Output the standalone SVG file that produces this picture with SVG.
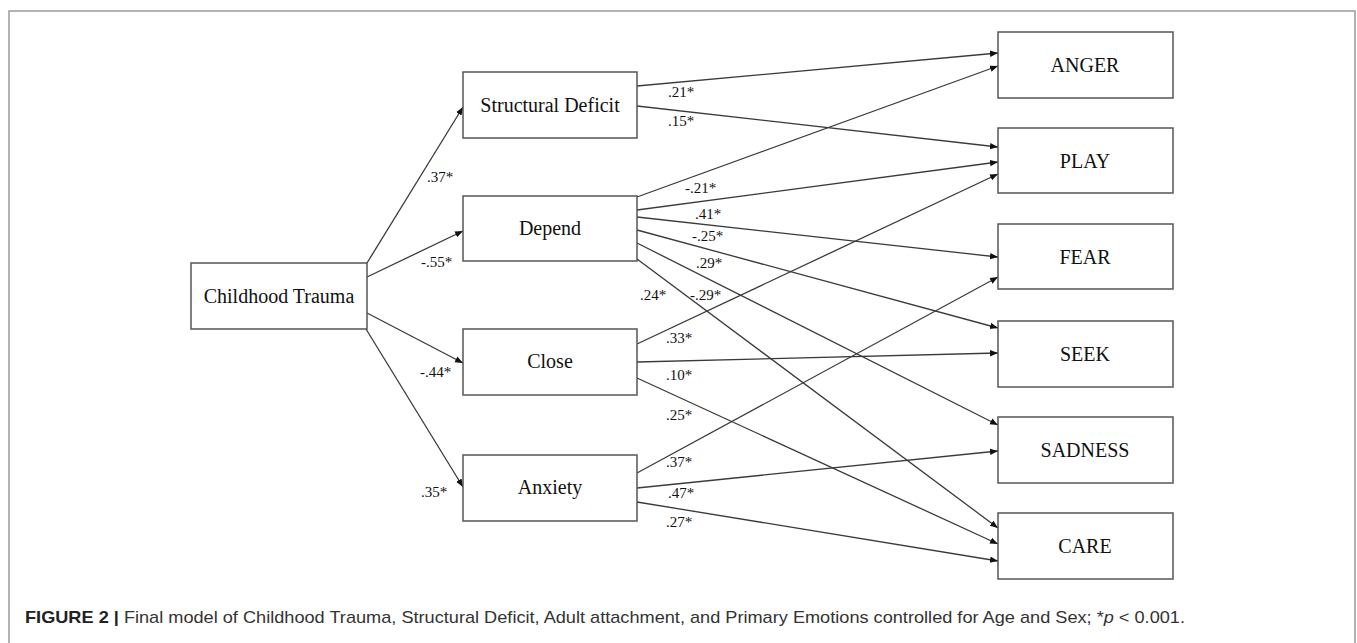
<svg xmlns="http://www.w3.org/2000/svg" width="1357" height="643" viewBox="0 0 1357 643">
<style>
.frame{fill:none;stroke:#9a9a9a;stroke-width:1.5}
.box{fill:#fff;stroke:#555;stroke-width:1.5}
.lbl{font-family:"Liberation Serif","Times New Roman",serif;font-size:20px;fill:#111;text-anchor:middle}
.coef{font-family:"Liberation Serif","Times New Roman",serif;font-size:15px;fill:#111}
.edge{stroke:#3a3a3a;stroke-width:1.3;fill:none;marker-end:url(#arr)}
.cap{font-family:"Liberation Sans",Arial,sans-serif;font-size:17px;fill:#333}
</style>
<defs>
<marker id="arr" viewBox="0 0 10 10" refX="10" refY="5" markerWidth="8" markerHeight="8" markerUnits="userSpaceOnUse" orient="auto">
<path d="M0,1 L10,5 L0,9 z" fill="#111"/>
</marker>
</defs>
<rect width="1357" height="643" fill="#fff"/>
<path class="frame" d="M9,643 V11 H1355 V643"/>

<g id="connectors">
<line class="edge" x1="367" y1="263" x2="463" y2="107"/>
<line class="edge" x1="367" y1="277" x2="463" y2="231"/>
<line class="edge" x1="367" y1="313" x2="463" y2="363"/>
<line class="edge" x1="366" y1="329" x2="463" y2="487"/>

<line class="edge" x1="637" y1="86" x2="998" y2="53"/>
<line class="edge" x1="637" y1="106" x2="998" y2="147"/>

<line class="edge" x1="637" y1="197" x2="998" y2="66"/>
<line class="edge" x1="637" y1="210" x2="998" y2="162"/>
<line class="edge" x1="637" y1="217" x2="998" y2="257"/>
<line class="edge" x1="637" y1="230" x2="998" y2="328"/>
<line class="edge" x1="637" y1="243" x2="998" y2="425"/>
<line class="edge" x1="637" y1="259" x2="998" y2="528"/>

<line class="edge" x1="637" y1="344" x2="998" y2="174"/>
<line class="edge" x1="637" y1="362" x2="998" y2="353"/>
<line class="edge" x1="637" y1="378" x2="998" y2="544"/>

<line class="edge" x1="637" y1="473" x2="998" y2="277"/>
<line class="edge" x1="637" y1="488" x2="998" y2="451"/>
<line class="edge" x1="637" y1="502" x2="998" y2="561"/>

<text class="coef" x="427" y="182">.37*</text>
<text class="coef" x="421" y="267">-.55*</text>
<text class="coef" x="420" y="377">-.44*</text>
<text class="coef" x="421" y="497">.35*</text>
<text class="coef" x="668" y="97">.21*</text>
<text class="coef" x="668" y="126">.15*</text>
<text class="coef" x="685" y="193">-.21*</text>
<text class="coef" x="695" y="219">.41*</text>
<text class="coef" x="692" y="241">-.25*</text>
<text class="coef" x="696" y="268">.29*</text>
<text class="coef" x="640" y="300">.24*</text>
<text class="coef" x="690" y="300">-.29*</text>
<text class="coef" x="666" y="343">.33*</text>
<text class="coef" x="666" y="380">.10*</text>
<text class="coef" x="666" y="420">.25*</text>
<text class="coef" x="666" y="467">.37*</text>
<text class="coef" x="668" y="498">.47*</text>
<text class="coef" x="666" y="527">.27*</text>
</g>

<g id="childhood-trauma"><rect class="box" x="191" y="263" width="176" height="66"/><text class="lbl" x="279" y="303">Childhood Trauma</text></g>
<g id="structural-deficit"><rect class="box" x="463" y="72" width="174" height="66"/><text class="lbl" x="550" y="112">Structural Deficit</text></g>
<g id="depend"><rect class="box" x="463" y="196" width="174" height="65"/><text class="lbl" x="550" y="235">Depend</text></g>
<g id="close"><rect class="box" x="463" y="329" width="174" height="66"/><text class="lbl" x="550" y="368">Close</text></g>
<g id="anxiety"><rect class="box" x="463" y="455" width="174" height="66"/><text class="lbl" x="550" y="494">Anxiety</text></g>

<g id="anger"><rect class="box" x="998" y="32" width="175" height="66"/><text class="lbl" x="1085" y="72">ANGER</text></g>
<g id="play"><rect class="box" x="998" y="128" width="175" height="65"/><text class="lbl" x="1085" y="168">PLAY</text></g>
<g id="fear"><rect class="box" x="998" y="224" width="175" height="65"/><text class="lbl" x="1085" y="264">FEAR</text></g>
<g id="seek"><rect class="box" x="998" y="321" width="175" height="66"/><text class="lbl" x="1085" y="361">SEEK</text></g>
<g id="sadness"><rect class="box" x="998" y="417" width="175" height="66"/><text class="lbl" x="1085" y="457">SADNESS</text></g>
<g id="care"><rect class="box" x="998" y="513" width="175" height="66"/><text class="lbl" x="1085" y="553">CARE</text></g>

<text class="cap" x="25" y="623" textLength="1160" lengthAdjust="spacingAndGlyphs"><tspan font-weight="bold" fill="#222">FIGURE 2 | </tspan>Final model of Childhood Trauma, Structural Deficit, Adult attachment, and Primary Emotions controlled for Age and Sex; *<tspan font-style="italic">p</tspan> &lt; 0.001.</text>
</svg>
